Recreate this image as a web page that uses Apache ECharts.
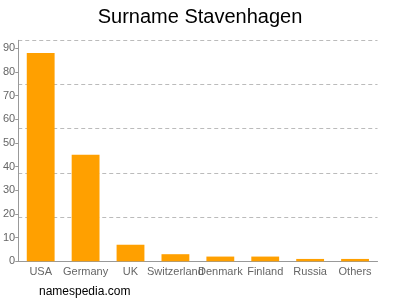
<!DOCTYPE html>
<html>
<head>
<meta charset="utf-8">
<script src="https://cdn.jsdelivr.net/npm/echarts@6/dist/echarts.min.js"></script>
<style>html,body{margin:0;padding:0;background:#fff}#c{width:400px;height:300px}</style>
</head>
<body>
<div id="c"></div>
<script>
var categories = ["USA", "Germany", "UK", "Switzerland", "Denmark", "Finland", "Russia", "Others"];
var values = [88, 45, 7, 3, 2, 2, 1, 1];
var yTicks = [0, 10, 20, 30, 40, 50, 60, 70, 80, 90];
var yMax = 93.4;

var chart = echarts.init(document.getElementById('c'), null, {renderer: 'canvas'});
chart.setOption({
  animation: false,
  title: {
    text: 'Surname Stavenhagen', left: 'center', top: 2,
    textStyle: {fontFamily: 'Liberation Sans', fontSize: 20, fontWeight: 'normal', color: '#000'}
  },
  graphic: [{
    type: 'text', left: 39, top: 286,
    style: {text: 'namespedia.com', fontFamily: 'Liberation Sans', fontSize: 12, fill: '#000'}
  }],
  grid: {left: 17.5, right: 22.5, top: 40.3, bottom: 38.7, containLabel: false},
  xAxis: {
    type: 'category', data: categories,
    axisLine: {lineStyle: {color: '#999', width: 1}},
    axisTick: {alignWithLabel: true, length: 3, lineStyle: {color: '#999'}},
    axisLabel: {interval: 0, color: '#666', fontFamily: 'Liberation Sans', fontSize: 11, margin: 5}
  },
  yAxis: [{
    type: 'value', min: 0, max: yMax,
    axisLine: {show: true, lineStyle: {color: '#999'}},
    axisTick: {show: true, length: 3, customValues: yTicks, lineStyle: {color: '#999'}},
    axisLabel: {customValues: yTicks, color: '#666', fontFamily: 'Liberation Sans', fontSize: 11, margin: 3},
    splitLine: {show: false}
  }, {
    type: 'value', min: 0, max: yMax, interval: yMax / 5, position: 'left',
    axisLine: {show: false}, axisTick: {show: false}, axisLabel: {show: false},
    splitLine: {show: true, lineStyle: {color: '#bbb', type: [4, 3], width: 1}}
  }],
  series: [{
    type: 'bar', data: values, yAxisIndex: 0, barWidth: '62%',
    itemStyle: {color: '#ffa000'}
  }]
});
</script>
</body>
</html>
